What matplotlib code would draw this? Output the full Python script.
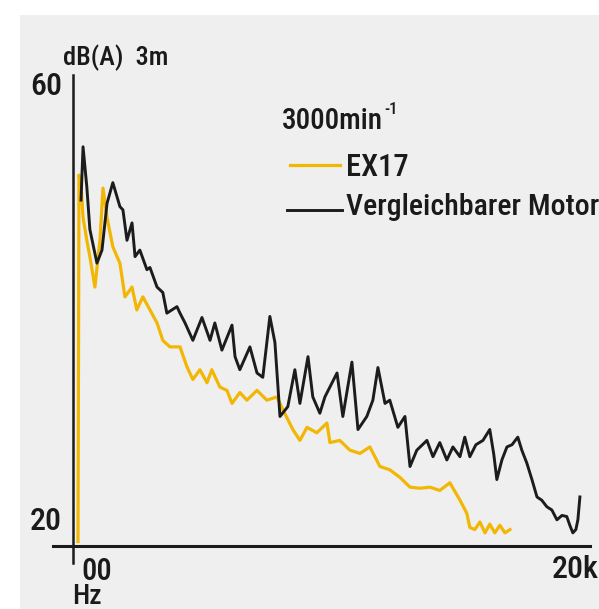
import matplotlib
matplotlib.use("Agg")
import matplotlib.pyplot as plt
from matplotlib.lines import Line2D
from matplotlib.patches import Rectangle
from matplotlib import font_manager
from matplotlib.font_manager import FontProperties


def _w(f):
    w = f.weight
    if isinstance(w, str):
        w = {'normal': 400, 'regular': 400, 'book': 400, 'medium': 500}.get(w.lower(), 700)
    return w


# pick a condensed sans face (medium weight preferred) if one is installed
cand = []
for f in font_manager.fontManager.ttflist:
    nm = f.name.lower()
    st = str(f.stretch).lower()
    fn = f.fname.lower()
    is_cond = ('narrow' in nm or 'condensed' in nm or 'condensed' in st
               or 'condensed' in fn or 'narrow' in fn) and 'semi' not in fn and 'ultra' not in fn \
        and 'extra' not in fn
    if is_cond and f.style == 'normal' and 'italic' not in fn and 'oblique' not in fn:
        if _w(f) in (400, 500):
            cand.append(f)
pref = ['liberation', 'roboto', 'open', 'noto', 'dejavu']
cand.sort(key=lambda f: (0 if _w(f) == 500 else 1,
                         next((i for i, p in enumerate(pref) if p in f.fname.lower()), 9)))
if cand:
    fp_base = dict(fname=cand[0].fname)
    CONDENSED = True
else:
    fp_base = dict(family='Liberation Sans')
    CONDENSED = False


def fp(size):
    return FontProperties(size=size if CONDENSED else size * 0.8, **fp_base)


# ---- data (frequency in kHz, level in dB(A)) ----
motor_f = [0.32, 0.40, 0.55, 0.67, 0.95, 1.15, 1.35, 1.58, 1.86, 1.98, 2.14, 2.34, 2.46, 2.65,
           2.93, 3.05, 3.33, 3.56, 3.72, 4.12, 4.24, 4.44, 4.75, 5.11, 5.43, 5.62, 5.90, 6.30,
           6.42, 6.61, 7.01, 7.29, 7.52, 7.80, 8.00, 8.20, 8.51, 8.79, 8.99, 9.31, 9.50, 9.78,
           9.98, 10.46, 10.69, 11.05, 11.29, 11.64, 11.88, 12.08, 12.36, 12.55, 12.87, 13.15,
           13.35, 13.62, 14.02, 14.26, 14.53, 14.81, 15.05, 15.33, 15.52, 15.72, 15.96, 16.24,
           16.51, 16.67, 16.79, 16.99, 17.19, 17.39, 17.62, 17.78, 17.98, 18.18, 18.38, 18.57,
           18.77, 18.97, 19.17, 19.37, 19.56, 19.68, 19.80, 19.92, 20.00, 20.08]
motor_db = [49.6, 54.5, 50.8, 46.9, 43.8, 45.0, 49.3, 51.2, 49.0, 48.7, 45.9, 47.5, 44.4, 45.0,
            43.2, 43.4, 41.6, 41.1, 39.2, 39.8, 39.2, 38.3, 36.7, 38.8, 36.7, 38.3, 35.8, 38.1,
            35.2, 34.0, 36.1, 33.7, 33.3, 38.9, 36.5, 29.7, 30.6, 34.0, 30.9, 35.2, 31.5, 30.0,
            31.5, 33.7, 29.7, 34.7, 28.5, 29.7, 31.2, 34.2, 30.9, 31.2, 28.7, 29.7,
            25.1, 26.6, 27.5, 26.0, 27.3, 25.7, 26.9, 26.0, 27.8, 26.0, 27.1, 27.5,
            28.5, 26.2, 23.9, 25.7, 26.9, 27.1, 27.8, 26.6, 25.4, 23.9, 22.3, 22.0,
            21.4, 21.1, 20.2, 20.6, 20.5, 19.7, 19.0, 19.3, 20.2, 22.3]

ex17_f = [0.20, 0.24, 0.32, 0.40, 0.55, 0.67, 0.87, 1.07, 1.19, 1.35, 1.58, 1.86, 2.06, 2.34,
          2.53, 2.77, 3.05, 3.33, 3.56, 3.84, 4.24, 4.51, 4.75, 5.03, 5.31, 5.50, 5.82, 6.10,
          6.30, 6.61, 6.89, 7.29, 7.68, 8.08, 8.32, 8.71, 8.99, 9.27, 9.66, 10.06, 10.18, 10.57,
          10.97, 11.37, 11.76, 12.16, 12.55, 12.95, 13.35, 13.74, 14.14, 14.53, 14.93, 15.33,
          15.60, 15.72, 15.92, 16.12, 16.32, 16.51, 16.71, 16.91, 17.11, 17.31]
ex17_db = [18.2, 51.9, 51.0, 48.0, 45.9, 44.4, 41.6, 45.9, 50.7, 48.0, 45.3, 43.8, 40.7, 41.6,
           39.5, 40.7, 39.5, 38.3, 36.7, 36.1, 36.1, 34.3, 33.1, 34.0, 32.8, 34.0, 32.4, 32.1,
           30.9, 31.9, 31.2, 32.1, 31.2, 31.5, 30.3, 28.5, 27.5, 28.7, 28.2, 29.1, 27.3, 27.5,
           26.6, 26.3, 26.9, 25.1, 24.8, 24.1, 23.2, 23.1, 23.2, 22.9, 23.6, 22.0,
           20.8, 19.5, 19.3, 20.0, 19.0, 19.8, 19.0, 19.7, 19.0, 19.3]

y_ticks = [20, 60]
y_labels = ['20', '60']
x_labels = ['00', '20k']
x_label_pos = [0.1, 19.9]
legend_title = '3000min'
legend_sup = '-1'
series_names = ['EX17', 'Vergleichbarer Motor']
y_unit = 'dB(A)  3m'
x_unit = 'Hz'

W, H = 599, 609
fig = plt.figure(figsize=(W / 100, H / 100), dpi=100, facecolor='white')


def fx(px):
    return px / W


def fy(py):
    return 1 - py / H


# scanned-paper background
fig.patches.append(Rectangle((fx(20), 0), 1 - fx(20), fy(15), transform=fig.transFigure,
                             facecolor='#efefef', edgecolor='none', zorder=-10))

ax_l, ax_r, ax_t, ax_b = 53, 590, 75, 546
ax = fig.add_axes([fx(ax_l), fy(ax_b), fx(ax_r - ax_l), (ax_b - ax_t) / H])
ax.set_zorder(5)
ax.set_facecolor('none')
ax.set_xlim(-0.79, 20.48)
ax.set_ylim(17.79, 61.1)

for s in ['top', 'right', 'left']:
    ax.spines[s].set_visible(False)
ax.spines['bottom'].set_linewidth(2.2)
ax.spines['bottom'].set_color('#1a1a1a')

# y axis line at f = 0, extending slightly below the x axis
ax.axvline(0, ymin=-17 / (ax_b - ax_t), ymax=1, color='#1a1a1a', lw=1.8, clip_on=False, zorder=3)

ax.plot(ex17_f, ex17_db, color='#f2b705', lw=2.3, zorder=4)
ax.plot(motor_f, motor_db, color='#1c1c1c', lw=2.1, zorder=5)

ax.set_xticks([])
ax.set_yticks([])

tc = '#1a1a1a'
# tick labels
for v, lab in zip(y_ticks, y_labels):
    ax.annotate(lab, xy=(0, v), xytext=(-11, 0), textcoords='offset pixels',
                ha='right', va='center', fontproperties=fp(23), color=tc)
ax.annotate(x_labels[0], xy=(x_label_pos[0], 17.79), xytext=(6, -11), textcoords='offset pixels',
            ha='left', va='top', fontproperties=fp(22), color=tc)
ax.annotate(x_labels[1], xy=(x_label_pos[1], 17.79), xytext=(0, -9), textcoords='offset pixels',
            ha='center', va='top', fontproperties=fp(23), color=tc)
fig.text(fx(72), fy(604), x_unit, ha='left', va='baseline', fontproperties=fp(20), color=tc)
fig.text(fx(63), fy(58), y_unit, ha='left', va='center', fontproperties=fp(19), color=tc)

# legend
title = fig.text(fx(282), fy(121), legend_title, ha='left', va='center', fontproperties=fp(21),
                 color=tc)
fig.canvas.draw()
bb = title.get_window_extent()
fig.text(bb.x1 / W + fx(1), fy(110), legend_sup, ha='left', va='center', fontproperties=fp(12),
         color=tc)
fig.lines.append(Line2D([fx(290), fx(340)], [fy(165), fy(165)], transform=fig.transFigure,
                        color='#f2b705', lw=2.3))
fig.lines.append(Line2D([fx(287), fx(342)], [fy(210), fy(210)], transform=fig.transFigure,
                        color='#1c1c1c', lw=2.1))
fig.text(fx(346), fy(168), series_names[0], ha='left', va='center', fontproperties=fp(22), color=tc)
fig.text(fx(346), fy(207), series_names[1], ha='left', va='center', fontproperties=fp(21.5),
         color=tc)

fig.savefig('out.png', dpi=100, facecolor=fig.get_facecolor())
